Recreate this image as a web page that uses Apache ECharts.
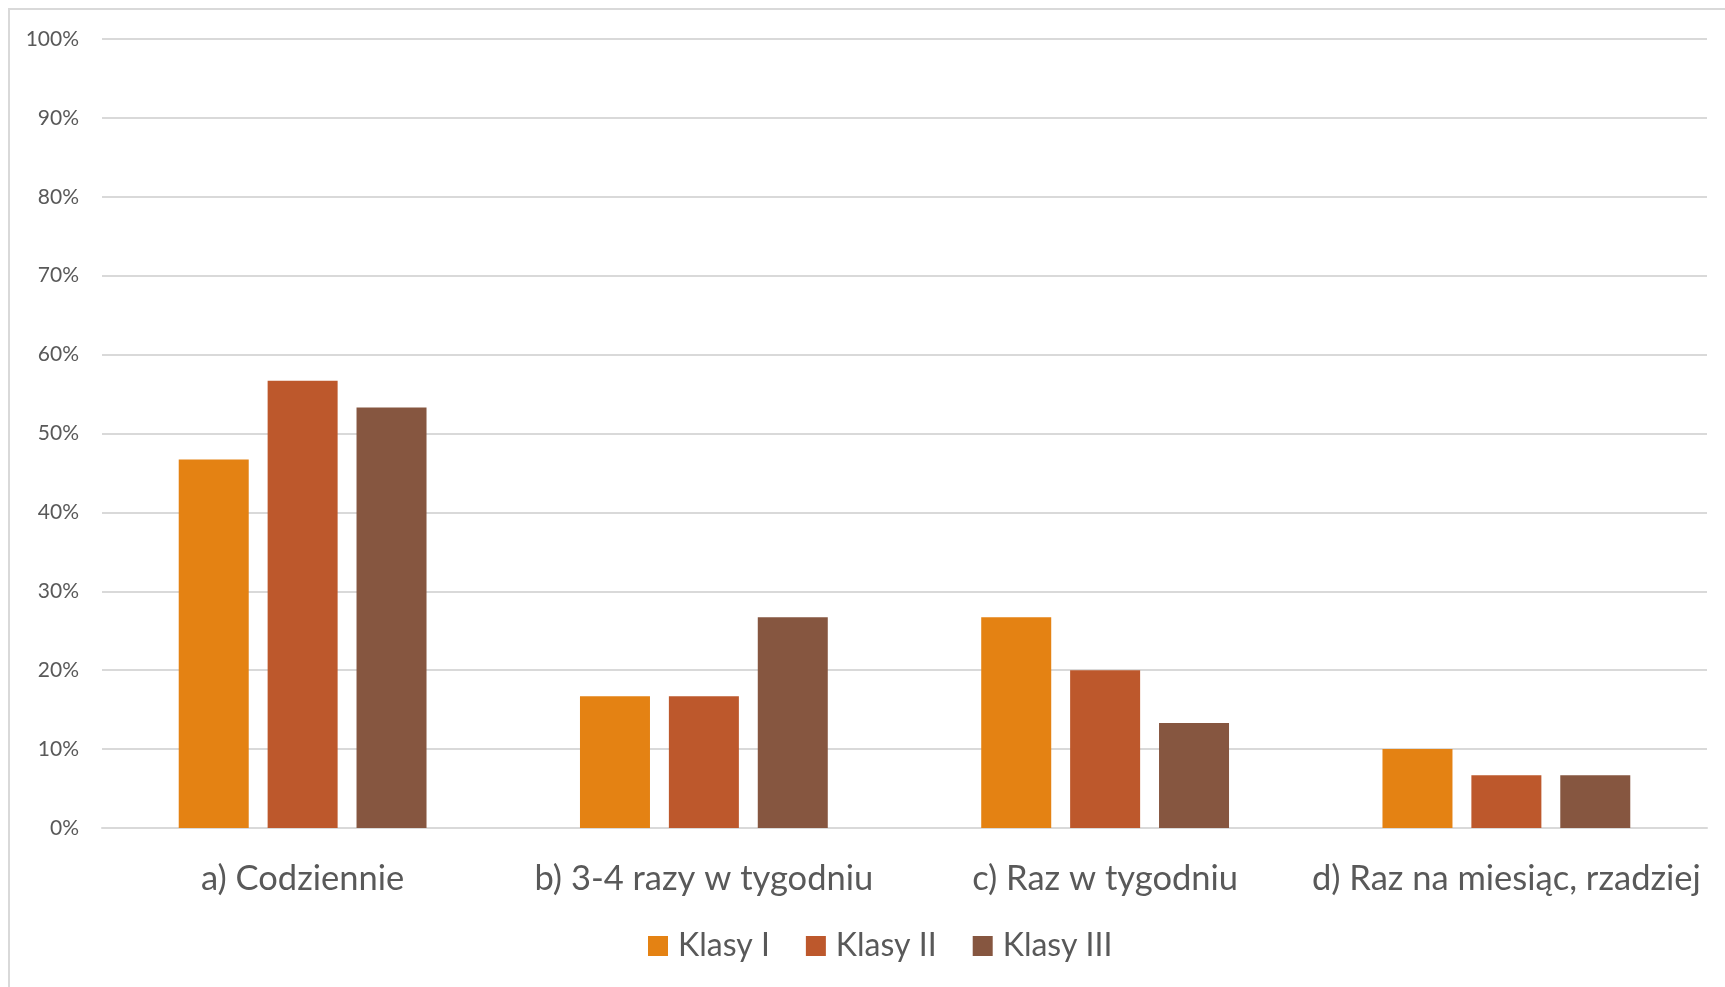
<!DOCTYPE html>
<html>
<head>
<meta charset="utf-8">
<script src="https://cdn.jsdelivr.net/npm/echarts@6/dist/echarts.min.js"></script>
<style>
  html, body { margin: 0; padding: 0; background: #fff; }
  #chart { width: 1725px; height: 987px; }
</style>
</head>
<body>
<div id="chart"></div>
<script>
// Frequency categories along the x axis
const categories = ['a) Codziennie', 'b) 3-4 razy w tygodniu', 'c) Raz w tygodniu', 'd) Raz na miesiąc, rzadziej'];
// Share of answers per class group (percent)
const klasyI = [46.7, 16.7, 26.7, 10.0];
const klasyII = [56.7, 16.7, 20.0, 6.7];
const klasyIII = [53.3, 26.7, 13.3, 6.7];
const seriesNames = ['Klasy I', 'Klasy II', 'Klasy III'];
const seriesColors = ['#e48213', '#bd582c', '#865640'];

const FONT = 'Lato, "Open Sans", sans-serif';
const TEXT = '#595959';
const GRID_LINE = '#d9d9d9';

const chart = echarts.init(document.getElementById('chart'), null, { renderer: 'canvas' });

const values = [klasyI, klasyII, klasyIII];

chart.setOption({
  backgroundColor: '#ffffff',
  animation: false,
  textStyle: { fontFamily: FONT },
  graphic: [{
    type: 'rect',
    shape: { x: 9, y: 9, width: 1800, height: 1100 },
    style: { fill: null, stroke: GRID_LINE, lineWidth: 2 },
    silent: true,
    z: -1
  }],
  grid: { left: 102, right: 18, top: 39, bottom: 159, containLabel: false },
  legend: {
    bottom: 20,
    left: 643,
    itemWidth: 20,
    itemHeight: 20,
    itemGap: 36,
    icon: 'rect',
    textStyle: { fontFamily: FONT, fontSize: 32, color: TEXT, padding: [0, 0, 0, 5] },
    data: seriesNames
  },
  xAxis: {
    type: 'category',
    data: categories,
    axisLine: { show: true, lineStyle: { color: GRID_LINE, width: 2 } },
    axisTick: { show: false },
    axisLabel: { fontFamily: FONT, fontSize: 34.5, color: TEXT, margin: 33, interval: 0 }
  },
  yAxis: {
    type: 'value',
    min: 0,
    max: 100,
    interval: 10,
    axisLine: { show: false },
    axisTick: { show: false },
    splitLine: { lineStyle: { color: GRID_LINE, width: 2 } },
    axisLabel: { fontFamily: FONT, fontSize: 21, color: TEXT, margin: 23, formatter: '{value}%' }
  },
  series: seriesNames.map((name, i) => ({
    name: name,
    type: 'bar',
    data: values[i],
    barWidth: 70,
    barGap: '27%',
    itemStyle: { color: seriesColors[i] }
  }))
});
</script>
</body>
</html>
